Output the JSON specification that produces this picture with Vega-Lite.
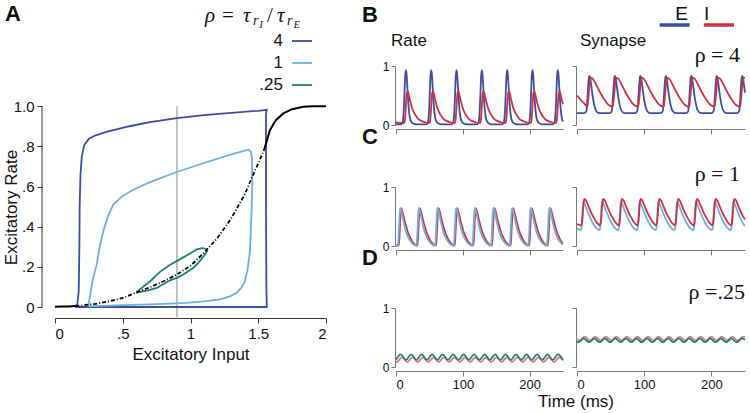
{
"$schema": "https://vega.github.io/schema/vega-lite/v6.json",
"padding": {"left": 2, "top": 3, "right": 2, "bottom": 2},
"background": "white",
"config": {
  "font": "Liberation Sans",
  "view": {"stroke": null},
  "axis": {"grid": false, "domainColor": "#777", "tickColor": "#777", "labelColor": "#111", "labelFont": "Liberation Sans", "titleFont": "Liberation Sans", "titleFontWeight": "normal", "titleColor": "#111"},
  "line": {"strokeWidth": 1.8},
  "text": {"color": "#111"}
},
"datasets": {
"loops": [
{"rho":"4","x":0.148,"y":0},{"rho":"4","x":0.165,"y":0.015},{"rho":"4","x":0.175,"y":0.08},{"rho":"4","x":0.18,"y":0.3},{"rho":"4","x":0.182,"y":0.5},{"rho":"4","x":0.188,"y":0.66},{"rho":"4","x":0.198,"y":0.75},{"rho":"4","x":0.215,"y":0.805},{"rho":"4","x":0.25,"y":0.838},{"rho":"4","x":0.3,"y":0.855},{"rho":"4","x":0.38,"y":0.872},{"rho":"4","x":0.55,"y":0.9},{"rho":"4","x":0.7,"y":0.92},{"rho":"4","x":0.9,"y":0.94},{"rho":"4","x":1.1,"y":0.955},{"rho":"4","x":1.3,"y":0.967},{"rho":"4","x":1.5,"y":0.977},{"rho":"4","x":1.563,"y":0.982},{"rho":"4","x":1.557,"y":0.96},{"rho":"4","x":1.557,"y":0.5},{"rho":"4","x":1.56,"y":0.1},{"rho":"4","x":1.563,"y":0},{"rho":"4","x":1.2,"y":0},{"rho":"4","x":0.8,"y":0},{"rho":"4","x":0.148,"y":0},
{"rho":"1","x":0.246,"y":0.003},{"rho":"1","x":0.25,"y":0.02},{"rho":"1","x":0.262,"y":0.07},{"rho":"1","x":0.28,"y":0.14},{"rho":"1","x":0.308,"y":0.212},{"rho":"1","x":0.33,"y":0.3},{"rho":"1","x":0.356,"y":0.377},{"rho":"1","x":0.39,"y":0.45},{"rho":"1","x":0.43,"y":0.51},{"rho":"1","x":0.5,"y":0.553},{"rho":"1","x":0.578,"y":0.584},{"rho":"1","x":0.7,"y":0.622},{"rho":"1","x":0.893,"y":0.671},{"rho":"1","x":1.1,"y":0.717},{"rho":"1","x":1.3,"y":0.76},{"rho":"1","x":1.427,"y":0.783},{"rho":"1","x":1.447,"y":0.772},{"rho":"1","x":1.454,"y":0.74},{"rho":"1","x":1.456,"y":0.62},{"rho":"1","x":1.452,"y":0.5},{"rho":"1","x":1.445,"y":0.38},{"rho":"1","x":1.439,"y":0.278},{"rho":"1","x":1.422,"y":0.19},{"rho":"1","x":1.402,"y":0.129},{"rho":"1","x":1.375,"y":0.095},{"rho":"1","x":1.341,"y":0.071},{"rho":"1","x":1.29,"y":0.053},{"rho":"1","x":1.218,"y":0.038},{"rho":"1","x":1.1,"y":0.028},{"rho":"1","x":0.972,"y":0.021},{"rho":"1","x":0.85,"y":0.017},{"rho":"1","x":0.701,"y":0.013},{"rho":"1","x":0.5,"y":0.009},{"rho":"1","x":0.35,"y":0.006},{"rho":"1","x":0.246,"y":0.003},
{"rho":".25","x":0.598,"y":0.072},{"rho":".25","x":0.65,"y":0.1},{"rho":".25","x":0.7,"y":0.127},{"rho":".25","x":0.775,"y":0.175},{"rho":".25","x":0.85,"y":0.21},{"rho":".25","x":0.947,"y":0.247},{"rho":".25","x":1.0,"y":0.268},{"rho":".25","x":1.046,"y":0.287},{"rho":".25","x":1.085,"y":0.293},{"rho":".25","x":1.115,"y":0.29},{"rho":".25","x":1.124,"y":0.28},{"rho":".25","x":1.1,"y":0.255},{"rho":".25","x":1.058,"y":0.22},{"rho":".25","x":1.021,"y":0.195},{"rho":".25","x":0.947,"y":0.162},{"rho":".25","x":0.898,"y":0.145},{"rho":".25","x":0.849,"y":0.133},{"rho":".25","x":0.751,"y":0.095},{"rho":".25","x":0.68,"y":0.082},{"rho":".25","x":0.598,"y":0.072}
],
"blackLow": [{"x":0,"y":0.001},{"x":0.05,"y":0.002},{"x":0.1,"y":0.003},{"x":0.15,"y":0.005}],
"blackMid": [{"x":0.15,"y":0.005},{"x":0.2,"y":0.008},{"x":0.3,"y":0.016},{"x":0.4,"y":0.028},{"x":0.5,"y":0.045},{"x":0.6,"y":0.072},{"x":0.7,"y":0.098},{"x":0.8,"y":0.128},{"x":0.9,"y":0.162},{"x":1.0,"y":0.205},{"x":1.1,"y":0.27},{"x":1.2,"y":0.345},{"x":1.3,"y":0.44},{"x":1.4,"y":0.56},{"x":1.45,"y":0.64},{"x":1.5,"y":0.715},{"x":1.545,"y":0.786}],
"blackHigh": [{"x":1.545,"y":0.786},{"x":1.587,"y":0.882},{"x":1.63,"y":0.93},{"x":1.685,"y":0.964},{"x":1.75,"y":0.985},{"x":1.833,"y":0.997},{"x":1.9,"y":0.999},{"x":2.0,"y":1.0}],
"bre": [{"t":0,"v":0.02},{"t":3,"v":0.01},
{"t":6.5,"v":0.01},{"t":9.5,"v":0.03},{"t":10.5,"v":0.08},{"t":11.5,"v":0.22},{"t":12.5,"v":0.48},{"t":13.5,"v":0.78},{"t":14.5,"v":0.93},{"t":15.5,"v":0.89},{"t":16.5,"v":0.74},{"t":17.5,"v":0.54},{"t":18.5,"v":0.36},{"t":19.5,"v":0.23},{"t":20.5,"v":0.14},{"t":22.5,"v":0.06},{"t":25.5,"v":0.025},{"t":30.5,"v":0.01},
{"t":44.4,"v":0.01},{"t":47.4,"v":0.03},{"t":48.4,"v":0.08},{"t":49.4,"v":0.22},{"t":50.4,"v":0.48},{"t":51.4,"v":0.78},{"t":52.4,"v":0.93},{"t":53.4,"v":0.89},{"t":54.4,"v":0.74},{"t":55.4,"v":0.54},{"t":56.4,"v":0.36},{"t":57.4,"v":0.23},{"t":58.4,"v":0.14},{"t":60.4,"v":0.06},{"t":63.4,"v":0.025},{"t":68.4,"v":0.01},
{"t":82.3,"v":0.01},{"t":85.3,"v":0.03},{"t":86.3,"v":0.08},{"t":87.3,"v":0.22},{"t":88.3,"v":0.48},{"t":89.3,"v":0.78},{"t":90.3,"v":0.93},{"t":91.3,"v":0.89},{"t":92.3,"v":0.74},{"t":93.3,"v":0.54},{"t":94.3,"v":0.36},{"t":95.3,"v":0.23},{"t":96.3,"v":0.14},{"t":98.3,"v":0.06},{"t":101.3,"v":0.025},{"t":106.3,"v":0.01},
{"t":120.2,"v":0.01},{"t":123.2,"v":0.03},{"t":124.2,"v":0.08},{"t":125.2,"v":0.22},{"t":126.2,"v":0.48},{"t":127.2,"v":0.78},{"t":128.2,"v":0.93},{"t":129.2,"v":0.89},{"t":130.2,"v":0.74},{"t":131.2,"v":0.54},{"t":132.2,"v":0.36},{"t":133.2,"v":0.23},{"t":134.2,"v":0.14},{"t":136.2,"v":0.06},{"t":139.2,"v":0.025},{"t":144.2,"v":0.01},
{"t":158.1,"v":0.01},{"t":161.1,"v":0.03},{"t":162.1,"v":0.08},{"t":163.1,"v":0.22},{"t":164.1,"v":0.48},{"t":165.1,"v":0.78},{"t":166.1,"v":0.93},{"t":167.1,"v":0.89},{"t":168.1,"v":0.74},{"t":169.1,"v":0.54},{"t":170.1,"v":0.36},{"t":171.1,"v":0.23},{"t":172.1,"v":0.14},{"t":174.1,"v":0.06},{"t":177.1,"v":0.025},{"t":182.1,"v":0.01},
{"t":196,"v":0.01},{"t":199,"v":0.03},{"t":200,"v":0.08},{"t":201,"v":0.22},{"t":202,"v":0.48},{"t":203,"v":0.78},{"t":204,"v":0.93},{"t":205,"v":0.89},{"t":206,"v":0.74},{"t":207,"v":0.54},{"t":208,"v":0.36},{"t":209,"v":0.23},{"t":210,"v":0.14},{"t":212,"v":0.06},{"t":215,"v":0.025},{"t":220,"v":0.01},
{"t":233.9,"v":0.01},{"t":236.9,"v":0.03},{"t":237.9,"v":0.08},{"t":238.9,"v":0.22},{"t":239.9,"v":0.48},{"t":240.9,"v":0.78},{"t":241.9,"v":0.93},{"t":242.9,"v":0.89},{"t":243.9,"v":0.74},{"t":244.9,"v":0.54},{"t":245.9,"v":0.36},{"t":246.9,"v":0.23},{"t":247.9,"v":0.14},{"t":250,"v":0.06}],
"bri": [{"t":0,"v":0.05},{"t":4,"v":0.035},
{"t":12.5,"v":0.035},{"t":13.5,"v":0.1},{"t":14.5,"v":0.26},{"t":15.5,"v":0.45},{"t":16.5,"v":0.55},{"t":17.5,"v":0.57},{"t":18.5,"v":0.54},{"t":20.5,"v":0.44},{"t":23.5,"v":0.31},{"t":26.5,"v":0.22},{"t":29.5,"v":0.16},{"t":33.5,"v":0.1},{"t":38.5,"v":0.065},{"t":43.5,"v":0.045},{"t":47.5,"v":0.035},
{"t":50.4,"v":0.035},{"t":51.4,"v":0.1},{"t":52.4,"v":0.26},{"t":53.4,"v":0.45},{"t":54.4,"v":0.55},{"t":55.4,"v":0.57},{"t":56.4,"v":0.54},{"t":58.4,"v":0.44},{"t":61.4,"v":0.31},{"t":64.4,"v":0.22},{"t":67.4,"v":0.16},{"t":71.4,"v":0.1},{"t":76.4,"v":0.065},{"t":81.4,"v":0.045},{"t":85.4,"v":0.035},
{"t":88.3,"v":0.035},{"t":89.3,"v":0.1},{"t":90.3,"v":0.26},{"t":91.3,"v":0.45},{"t":92.3,"v":0.55},{"t":93.3,"v":0.57},{"t":94.3,"v":0.54},{"t":96.3,"v":0.44},{"t":99.3,"v":0.31},{"t":102.3,"v":0.22},{"t":105.3,"v":0.16},{"t":109.3,"v":0.1},{"t":114.3,"v":0.065},{"t":119.3,"v":0.045},{"t":123.3,"v":0.035},
{"t":126.2,"v":0.035},{"t":127.2,"v":0.1},{"t":128.2,"v":0.26},{"t":129.2,"v":0.45},{"t":130.2,"v":0.55},{"t":131.2,"v":0.57},{"t":132.2,"v":0.54},{"t":134.2,"v":0.44},{"t":137.2,"v":0.31},{"t":140.2,"v":0.22},{"t":143.2,"v":0.16},{"t":147.2,"v":0.1},{"t":152.2,"v":0.065},{"t":157.2,"v":0.045},{"t":161.2,"v":0.035},
{"t":164.1,"v":0.035},{"t":165.1,"v":0.1},{"t":166.1,"v":0.26},{"t":167.1,"v":0.45},{"t":168.1,"v":0.55},{"t":169.1,"v":0.57},{"t":170.1,"v":0.54},{"t":172.1,"v":0.44},{"t":175.1,"v":0.31},{"t":178.1,"v":0.22},{"t":181.1,"v":0.16},{"t":185.1,"v":0.1},{"t":190.1,"v":0.065},{"t":195.1,"v":0.045},{"t":199.1,"v":0.035},
{"t":202,"v":0.035},{"t":203,"v":0.1},{"t":204,"v":0.26},{"t":205,"v":0.45},{"t":206,"v":0.55},{"t":207,"v":0.57},{"t":208,"v":0.54},{"t":210,"v":0.44},{"t":213,"v":0.31},{"t":216,"v":0.22},{"t":219,"v":0.16},{"t":223,"v":0.1},{"t":228,"v":0.065},{"t":233,"v":0.045},{"t":237,"v":0.035},
{"t":239.9,"v":0.035},{"t":240.9,"v":0.1},{"t":241.9,"v":0.26},{"t":242.9,"v":0.45},{"t":243.9,"v":0.55},{"t":244.9,"v":0.57},{"t":245.9,"v":0.54},{"t":247.9,"v":0.44},{"t":250,"v":0.35}],
"bse": [{"t":0,"v":0.2},
{"t":11,"v":0.2},{"t":14,"v":0.24},{"t":15,"v":0.36},{"t":16,"v":0.54},{"t":17,"v":0.72},{"t":18,"v":0.83},{"t":19,"v":0.83},{"t":20,"v":0.77},{"t":22,"v":0.6},{"t":24,"v":0.44},{"t":26,"v":0.32},{"t":28,"v":0.25},{"t":31,"v":0.21},{"t":36,"v":0.2},
{"t":48.9,"v":0.2},{"t":51.9,"v":0.24},{"t":52.9,"v":0.36},{"t":53.9,"v":0.54},{"t":54.9,"v":0.72},{"t":55.9,"v":0.83},{"t":56.9,"v":0.83},{"t":57.9,"v":0.77},{"t":59.9,"v":0.6},{"t":61.9,"v":0.44},{"t":63.9,"v":0.32},{"t":65.9,"v":0.25},{"t":68.9,"v":0.21},{"t":73.9,"v":0.2},
{"t":86.8,"v":0.2},{"t":89.8,"v":0.24},{"t":90.8,"v":0.36},{"t":91.8,"v":0.54},{"t":92.8,"v":0.72},{"t":93.8,"v":0.83},{"t":94.8,"v":0.83},{"t":95.8,"v":0.77},{"t":97.8,"v":0.6},{"t":99.8,"v":0.44},{"t":101.8,"v":0.32},{"t":103.8,"v":0.25},{"t":106.8,"v":0.21},{"t":111.8,"v":0.2},
{"t":124.7,"v":0.2},{"t":127.7,"v":0.24},{"t":128.7,"v":0.36},{"t":129.7,"v":0.54},{"t":130.7,"v":0.72},{"t":131.7,"v":0.83},{"t":132.7,"v":0.83},{"t":133.7,"v":0.77},{"t":135.7,"v":0.6},{"t":137.7,"v":0.44},{"t":139.7,"v":0.32},{"t":141.7,"v":0.25},{"t":144.7,"v":0.21},{"t":149.7,"v":0.2},
{"t":162.6,"v":0.2},{"t":165.6,"v":0.24},{"t":166.6,"v":0.36},{"t":167.6,"v":0.54},{"t":168.6,"v":0.72},{"t":169.6,"v":0.83},{"t":170.6,"v":0.83},{"t":171.6,"v":0.77},{"t":173.6,"v":0.6},{"t":175.6,"v":0.44},{"t":177.6,"v":0.32},{"t":179.6,"v":0.25},{"t":182.6,"v":0.21},{"t":187.6,"v":0.2},
{"t":200.5,"v":0.2},{"t":203.5,"v":0.24},{"t":204.5,"v":0.36},{"t":205.5,"v":0.54},{"t":206.5,"v":0.72},{"t":207.5,"v":0.83},{"t":208.5,"v":0.83},{"t":209.5,"v":0.77},{"t":211.5,"v":0.6},{"t":213.5,"v":0.44},{"t":215.5,"v":0.32},{"t":217.5,"v":0.25},{"t":220.5,"v":0.21},{"t":225.5,"v":0.2},
{"t":238.4,"v":0.2},{"t":241.4,"v":0.24},{"t":242.4,"v":0.36},{"t":243.4,"v":0.54},{"t":244.4,"v":0.72},{"t":245.4,"v":0.83},{"t":246.4,"v":0.83},{"t":247.4,"v":0.77},{"t":249.4,"v":0.6},{"t":250,"v":0.55}],
"bsi": [{"t":0,"v":0.5},{"t":7,"v":0.41},{"t":12,"v":0.35},
{"t":15,"v":0.31},{"t":16,"v":0.36},{"t":17,"v":0.47},{"t":18,"v":0.6},{"t":19,"v":0.71},{"t":20,"v":0.78},{"t":21,"v":0.8},{"t":23,"v":0.79},{"t":26,"v":0.74},{"t":30,"v":0.65},{"t":34,"v":0.56},{"t":38,"v":0.48},{"t":42,"v":0.41},{"t":46,"v":0.35},{"t":50,"v":0.32},
{"t":52.9,"v":0.31},{"t":53.9,"v":0.36},{"t":54.9,"v":0.47},{"t":55.9,"v":0.6},{"t":56.9,"v":0.71},{"t":57.9,"v":0.78},{"t":58.9,"v":0.8},{"t":60.9,"v":0.79},{"t":63.9,"v":0.74},{"t":67.9,"v":0.65},{"t":71.9,"v":0.56},{"t":75.9,"v":0.48},{"t":79.9,"v":0.41},{"t":83.9,"v":0.35},{"t":87.9,"v":0.32},
{"t":90.8,"v":0.31},{"t":91.8,"v":0.36},{"t":92.8,"v":0.47},{"t":93.8,"v":0.6},{"t":94.8,"v":0.71},{"t":95.8,"v":0.78},{"t":96.8,"v":0.8},{"t":98.8,"v":0.79},{"t":101.8,"v":0.74},{"t":105.8,"v":0.65},{"t":109.8,"v":0.56},{"t":113.8,"v":0.48},{"t":117.8,"v":0.41},{"t":121.8,"v":0.35},{"t":125.8,"v":0.32},
{"t":128.7,"v":0.31},{"t":129.7,"v":0.36},{"t":130.7,"v":0.47},{"t":131.7,"v":0.6},{"t":132.7,"v":0.71},{"t":133.7,"v":0.78},{"t":134.7,"v":0.8},{"t":136.7,"v":0.79},{"t":139.7,"v":0.74},{"t":143.7,"v":0.65},{"t":147.7,"v":0.56},{"t":151.7,"v":0.48},{"t":155.7,"v":0.41},{"t":159.7,"v":0.35},{"t":163.7,"v":0.32},
{"t":166.6,"v":0.31},{"t":167.6,"v":0.36},{"t":168.6,"v":0.47},{"t":169.6,"v":0.6},{"t":170.6,"v":0.71},{"t":171.6,"v":0.78},{"t":172.6,"v":0.8},{"t":174.6,"v":0.79},{"t":177.6,"v":0.74},{"t":181.6,"v":0.65},{"t":185.6,"v":0.56},{"t":189.6,"v":0.48},{"t":193.6,"v":0.41},{"t":197.6,"v":0.35},{"t":201.6,"v":0.32},
{"t":204.5,"v":0.31},{"t":205.5,"v":0.36},{"t":206.5,"v":0.47},{"t":207.5,"v":0.6},{"t":208.5,"v":0.71},{"t":209.5,"v":0.78},{"t":210.5,"v":0.8},{"t":212.5,"v":0.79},{"t":215.5,"v":0.74},{"t":219.5,"v":0.65},{"t":223.5,"v":0.56},{"t":227.5,"v":0.48},{"t":231.5,"v":0.41},{"t":235.5,"v":0.35},{"t":239.5,"v":0.32},
{"t":242.4,"v":0.31},{"t":243.4,"v":0.36},{"t":244.4,"v":0.47},{"t":245.4,"v":0.6},{"t":246.4,"v":0.71},{"t":247.4,"v":0.78},{"t":248.4,"v":0.8},{"t":250,"v":0.795}],
"cre": [{"t":0,"v":0.005},
{"t":2,"v":0.005},{"t":3,"v":0.03},{"t":4,"v":0.2},{"t":5,"v":0.45},{"t":6,"v":0.64},{"t":7,"v":0.63},{"t":9,"v":0.54},{"t":11,"v":0.43},{"t":13,"v":0.33},{"t":16,"v":0.21},{"t":19,"v":0.13},{"t":23,"v":0.06},{"t":27,"v":0.02},
{"t":29.9,"v":0.005},{"t":30.9,"v":0.03},{"t":31.9,"v":0.2},{"t":32.9,"v":0.45},{"t":33.9,"v":0.64},{"t":34.9,"v":0.63},{"t":36.9,"v":0.54},{"t":38.9,"v":0.43},{"t":40.9,"v":0.33},{"t":43.9,"v":0.21},{"t":46.9,"v":0.13},{"t":50.9,"v":0.06},{"t":54.9,"v":0.02},
{"t":57.8,"v":0.005},{"t":58.8,"v":0.03},{"t":59.8,"v":0.2},{"t":60.8,"v":0.45},{"t":61.8,"v":0.64},{"t":62.8,"v":0.63},{"t":64.8,"v":0.54},{"t":66.8,"v":0.43},{"t":68.8,"v":0.33},{"t":71.8,"v":0.21},{"t":74.8,"v":0.13},{"t":78.8,"v":0.06},{"t":82.8,"v":0.02},
{"t":85.7,"v":0.005},{"t":86.7,"v":0.03},{"t":87.7,"v":0.2},{"t":88.7,"v":0.45},{"t":89.7,"v":0.64},{"t":90.7,"v":0.63},{"t":92.7,"v":0.54},{"t":94.7,"v":0.43},{"t":96.7,"v":0.33},{"t":99.7,"v":0.21},{"t":102.7,"v":0.13},{"t":106.7,"v":0.06},{"t":110.7,"v":0.02},
{"t":113.6,"v":0.005},{"t":114.6,"v":0.03},{"t":115.6,"v":0.2},{"t":116.6,"v":0.45},{"t":117.6,"v":0.64},{"t":118.6,"v":0.63},{"t":120.6,"v":0.54},{"t":122.6,"v":0.43},{"t":124.6,"v":0.33},{"t":127.6,"v":0.21},{"t":130.6,"v":0.13},{"t":134.6,"v":0.06},{"t":138.6,"v":0.02},
{"t":141.5,"v":0.005},{"t":142.5,"v":0.03},{"t":143.5,"v":0.2},{"t":144.5,"v":0.45},{"t":145.5,"v":0.64},{"t":146.5,"v":0.63},{"t":148.5,"v":0.54},{"t":150.5,"v":0.43},{"t":152.5,"v":0.33},{"t":155.5,"v":0.21},{"t":158.5,"v":0.13},{"t":162.5,"v":0.06},{"t":166.5,"v":0.02},
{"t":169.4,"v":0.005},{"t":170.4,"v":0.03},{"t":171.4,"v":0.2},{"t":172.4,"v":0.45},{"t":173.4,"v":0.64},{"t":174.4,"v":0.63},{"t":176.4,"v":0.54},{"t":178.4,"v":0.43},{"t":180.4,"v":0.33},{"t":183.4,"v":0.21},{"t":186.4,"v":0.13},{"t":190.4,"v":0.06},{"t":194.4,"v":0.02},
{"t":197.3,"v":0.005},{"t":198.3,"v":0.03},{"t":199.3,"v":0.2},{"t":200.3,"v":0.45},{"t":201.3,"v":0.64},{"t":202.3,"v":0.63},{"t":204.3,"v":0.54},{"t":206.3,"v":0.43},{"t":208.3,"v":0.33},{"t":211.3,"v":0.21},{"t":214.3,"v":0.13},{"t":218.3,"v":0.06},{"t":222.3,"v":0.02},
{"t":225.2,"v":0.005},{"t":226.2,"v":0.03},{"t":227.2,"v":0.2},{"t":228.2,"v":0.45},{"t":229.2,"v":0.64},{"t":230.2,"v":0.63},{"t":232.2,"v":0.54},{"t":234.2,"v":0.43},{"t":236.2,"v":0.33},{"t":239.2,"v":0.21},{"t":242.2,"v":0.13},{"t":246.2,"v":0.06},{"t":250,"v":0.02}],
"cri": [{"t":0,"v":0.005},
{"t":3,"v":0.005},{"t":4,"v":0.02},{"t":5,"v":0.12},{"t":6,"v":0.36},{"t":7,"v":0.58},{"t":8,"v":0.64},{"t":10,"v":0.57},{"t":12,"v":0.47},{"t":14,"v":0.38},{"t":17,"v":0.26},{"t":20,"v":0.17},{"t":24,"v":0.08},{"t":28,"v":0.03},
{"t":30.9,"v":0.005},{"t":31.9,"v":0.02},{"t":32.9,"v":0.12},{"t":33.9,"v":0.36},{"t":34.9,"v":0.58},{"t":35.9,"v":0.64},{"t":37.9,"v":0.57},{"t":39.9,"v":0.47},{"t":41.9,"v":0.38},{"t":44.9,"v":0.26},{"t":47.9,"v":0.17},{"t":51.9,"v":0.08},{"t":55.9,"v":0.03},
{"t":58.8,"v":0.005},{"t":59.8,"v":0.02},{"t":60.8,"v":0.12},{"t":61.8,"v":0.36},{"t":62.8,"v":0.58},{"t":63.8,"v":0.64},{"t":65.8,"v":0.57},{"t":67.8,"v":0.47},{"t":69.8,"v":0.38},{"t":72.8,"v":0.26},{"t":75.8,"v":0.17},{"t":79.8,"v":0.08},{"t":83.8,"v":0.03},
{"t":86.7,"v":0.005},{"t":87.7,"v":0.02},{"t":88.7,"v":0.12},{"t":89.7,"v":0.36},{"t":90.7,"v":0.58},{"t":91.7,"v":0.64},{"t":93.7,"v":0.57},{"t":95.7,"v":0.47},{"t":97.7,"v":0.38},{"t":100.7,"v":0.26},{"t":103.7,"v":0.17},{"t":107.7,"v":0.08},{"t":111.7,"v":0.03},
{"t":114.6,"v":0.005},{"t":115.6,"v":0.02},{"t":116.6,"v":0.12},{"t":117.6,"v":0.36},{"t":118.6,"v":0.58},{"t":119.6,"v":0.64},{"t":121.6,"v":0.57},{"t":123.6,"v":0.47},{"t":125.6,"v":0.38},{"t":128.6,"v":0.26},{"t":131.6,"v":0.17},{"t":135.6,"v":0.08},{"t":139.6,"v":0.03},
{"t":142.5,"v":0.005},{"t":143.5,"v":0.02},{"t":144.5,"v":0.12},{"t":145.5,"v":0.36},{"t":146.5,"v":0.58},{"t":147.5,"v":0.64},{"t":149.5,"v":0.57},{"t":151.5,"v":0.47},{"t":153.5,"v":0.38},{"t":156.5,"v":0.26},{"t":159.5,"v":0.17},{"t":163.5,"v":0.08},{"t":167.5,"v":0.03},
{"t":170.4,"v":0.005},{"t":171.4,"v":0.02},{"t":172.4,"v":0.12},{"t":173.4,"v":0.36},{"t":174.4,"v":0.58},{"t":175.4,"v":0.64},{"t":177.4,"v":0.57},{"t":179.4,"v":0.47},{"t":181.4,"v":0.38},{"t":184.4,"v":0.26},{"t":187.4,"v":0.17},{"t":191.4,"v":0.08},{"t":195.4,"v":0.03},
{"t":198.3,"v":0.005},{"t":199.3,"v":0.02},{"t":200.3,"v":0.12},{"t":201.3,"v":0.36},{"t":202.3,"v":0.58},{"t":203.3,"v":0.64},{"t":205.3,"v":0.57},{"t":207.3,"v":0.47},{"t":209.3,"v":0.38},{"t":212.3,"v":0.26},{"t":215.3,"v":0.17},{"t":219.3,"v":0.08},{"t":223.3,"v":0.03},
{"t":226.2,"v":0.005},{"t":227.2,"v":0.02},{"t":228.2,"v":0.12},{"t":229.2,"v":0.36},{"t":230.2,"v":0.58},{"t":231.2,"v":0.64},{"t":233.2,"v":0.57},{"t":235.2,"v":0.47},{"t":237.2,"v":0.38},{"t":240.2,"v":0.26},{"t":243.2,"v":0.17},{"t":247.2,"v":0.08},{"t":250,"v":0.045}],
"cse": [{"t":0,"v":0.3},{"t":3,"v":0.28},
{"t":5.5,"v":0.27},{"t":6.5,"v":0.3},{"t":7.5,"v":0.45},{"t":8.5,"v":0.64},{"t":9.5,"v":0.75},{"t":10.5,"v":0.74},{"t":12.5,"v":0.68},{"t":15.5,"v":0.59},{"t":19.5,"v":0.48},{"t":23.5,"v":0.39},{"t":27.5,"v":0.32},{"t":30.5,"v":0.285},
{"t":33.4,"v":0.27},{"t":34.4,"v":0.3},{"t":35.4,"v":0.45},{"t":36.4,"v":0.64},{"t":37.4,"v":0.75},{"t":38.4,"v":0.74},{"t":40.4,"v":0.68},{"t":43.4,"v":0.59},{"t":47.4,"v":0.48},{"t":51.4,"v":0.39},{"t":55.4,"v":0.32},{"t":58.4,"v":0.285},
{"t":61.3,"v":0.27},{"t":62.3,"v":0.3},{"t":63.3,"v":0.45},{"t":64.3,"v":0.64},{"t":65.3,"v":0.75},{"t":66.3,"v":0.74},{"t":68.3,"v":0.68},{"t":71.3,"v":0.59},{"t":75.3,"v":0.48},{"t":79.3,"v":0.39},{"t":83.3,"v":0.32},{"t":86.3,"v":0.285},
{"t":89.2,"v":0.27},{"t":90.2,"v":0.3},{"t":91.2,"v":0.45},{"t":92.2,"v":0.64},{"t":93.2,"v":0.75},{"t":94.2,"v":0.74},{"t":96.2,"v":0.68},{"t":99.2,"v":0.59},{"t":103.2,"v":0.48},{"t":107.2,"v":0.39},{"t":111.2,"v":0.32},{"t":114.2,"v":0.285},
{"t":117.1,"v":0.27},{"t":118.1,"v":0.3},{"t":119.1,"v":0.45},{"t":120.1,"v":0.64},{"t":121.1,"v":0.75},{"t":122.1,"v":0.74},{"t":124.1,"v":0.68},{"t":127.1,"v":0.59},{"t":131.1,"v":0.48},{"t":135.1,"v":0.39},{"t":139.1,"v":0.32},{"t":142.1,"v":0.285},
{"t":145,"v":0.27},{"t":146,"v":0.3},{"t":147,"v":0.45},{"t":148,"v":0.64},{"t":149,"v":0.75},{"t":150,"v":0.74},{"t":152,"v":0.68},{"t":155,"v":0.59},{"t":159,"v":0.48},{"t":163,"v":0.39},{"t":167,"v":0.32},{"t":170,"v":0.285},
{"t":172.9,"v":0.27},{"t":173.9,"v":0.3},{"t":174.9,"v":0.45},{"t":175.9,"v":0.64},{"t":176.9,"v":0.75},{"t":177.9,"v":0.74},{"t":179.9,"v":0.68},{"t":182.9,"v":0.59},{"t":186.9,"v":0.48},{"t":190.9,"v":0.39},{"t":194.9,"v":0.32},{"t":197.9,"v":0.285},
{"t":200.8,"v":0.27},{"t":201.8,"v":0.3},{"t":202.8,"v":0.45},{"t":203.8,"v":0.64},{"t":204.8,"v":0.75},{"t":205.8,"v":0.74},{"t":207.8,"v":0.68},{"t":210.8,"v":0.59},{"t":214.8,"v":0.48},{"t":218.8,"v":0.39},{"t":222.8,"v":0.32},{"t":225.8,"v":0.285},
{"t":228.7,"v":0.27},{"t":229.7,"v":0.3},{"t":230.7,"v":0.45},{"t":231.7,"v":0.64},{"t":232.7,"v":0.75},{"t":233.7,"v":0.74},{"t":235.7,"v":0.68},{"t":238.7,"v":0.59},{"t":242.7,"v":0.48},{"t":246.7,"v":0.39},{"t":250,"v":0.34}],
"csi": [{"t":0,"v":0.37},{"t":3,"v":0.36},
{"t":6.5,"v":0.35},{"t":7.5,"v":0.39},{"t":8.5,"v":0.52},{"t":9.5,"v":0.69},{"t":10.5,"v":0.78},{"t":11.5,"v":0.8},{"t":13.5,"v":0.77},{"t":16.5,"v":0.69},{"t":20.5,"v":0.58},{"t":24.5,"v":0.49},{"t":28.5,"v":0.41},{"t":31.5,"v":0.37},
{"t":34.4,"v":0.35},{"t":35.4,"v":0.39},{"t":36.4,"v":0.52},{"t":37.4,"v":0.69},{"t":38.4,"v":0.78},{"t":39.4,"v":0.8},{"t":41.4,"v":0.77},{"t":44.4,"v":0.69},{"t":48.4,"v":0.58},{"t":52.4,"v":0.49},{"t":56.4,"v":0.41},{"t":59.4,"v":0.37},
{"t":62.3,"v":0.35},{"t":63.3,"v":0.39},{"t":64.3,"v":0.52},{"t":65.3,"v":0.69},{"t":66.3,"v":0.78},{"t":67.3,"v":0.8},{"t":69.3,"v":0.77},{"t":72.3,"v":0.69},{"t":76.3,"v":0.58},{"t":80.3,"v":0.49},{"t":84.3,"v":0.41},{"t":87.3,"v":0.37},
{"t":90.2,"v":0.35},{"t":91.2,"v":0.39},{"t":92.2,"v":0.52},{"t":93.2,"v":0.69},{"t":94.2,"v":0.78},{"t":95.2,"v":0.8},{"t":97.2,"v":0.77},{"t":100.2,"v":0.69},{"t":104.2,"v":0.58},{"t":108.2,"v":0.49},{"t":112.2,"v":0.41},{"t":115.2,"v":0.37},
{"t":118.1,"v":0.35},{"t":119.1,"v":0.39},{"t":120.1,"v":0.52},{"t":121.1,"v":0.69},{"t":122.1,"v":0.78},{"t":123.1,"v":0.8},{"t":125.1,"v":0.77},{"t":128.1,"v":0.69},{"t":132.1,"v":0.58},{"t":136.1,"v":0.49},{"t":140.1,"v":0.41},{"t":143.1,"v":0.37},
{"t":146,"v":0.35},{"t":147,"v":0.39},{"t":148,"v":0.52},{"t":149,"v":0.69},{"t":150,"v":0.78},{"t":151,"v":0.8},{"t":153,"v":0.77},{"t":156,"v":0.69},{"t":160,"v":0.58},{"t":164,"v":0.49},{"t":168,"v":0.41},{"t":171,"v":0.37},
{"t":173.9,"v":0.35},{"t":174.9,"v":0.39},{"t":175.9,"v":0.52},{"t":176.9,"v":0.69},{"t":177.9,"v":0.78},{"t":178.9,"v":0.8},{"t":180.9,"v":0.77},{"t":183.9,"v":0.69},{"t":187.9,"v":0.58},{"t":191.9,"v":0.49},{"t":195.9,"v":0.41},{"t":198.9,"v":0.37},
{"t":201.8,"v":0.35},{"t":202.8,"v":0.39},{"t":203.8,"v":0.52},{"t":204.8,"v":0.69},{"t":205.8,"v":0.78},{"t":206.8,"v":0.8},{"t":208.8,"v":0.77},{"t":211.8,"v":0.69},{"t":215.8,"v":0.58},{"t":219.8,"v":0.49},{"t":223.8,"v":0.41},{"t":226.8,"v":0.37},
{"t":229.7,"v":0.35},{"t":230.7,"v":0.39},{"t":231.7,"v":0.52},{"t":232.7,"v":0.69},{"t":233.7,"v":0.78},{"t":234.7,"v":0.8},{"t":236.7,"v":0.77},{"t":239.7,"v":0.69},{"t":243.7,"v":0.58},{"t":247.7,"v":0.49},{"t":250,"v":0.45}],
"dre": [{"t":0,"v":0.125},{"t":7,"v":0.215},{"t":14.9,"v":0.12},{"t":22.7,"v":0.215},{"t":30.6,"v":0.12},{"t":38.4,"v":0.215},{"t":46.3,"v":0.12},{"t":54.1,"v":0.215},{"t":62,"v":0.12},{"t":69.8,"v":0.215},{"t":77.7,"v":0.12},{"t":85.5,"v":0.215},{"t":93.4,"v":0.12},{"t":101.2,"v":0.215},{"t":109.1,"v":0.12},{"t":116.9,"v":0.215},{"t":124.8,"v":0.12},{"t":132.6,"v":0.215},{"t":140.5,"v":0.12},{"t":148.3,"v":0.215},{"t":156.2,"v":0.12},{"t":164,"v":0.215},{"t":171.9,"v":0.12},{"t":179.7,"v":0.215},{"t":187.6,"v":0.12},{"t":195.4,"v":0.215},{"t":203.3,"v":0.12},{"t":211.1,"v":0.215},{"t":219,"v":0.12},{"t":226.8,"v":0.215},{"t":234.7,"v":0.12},{"t":242.5,"v":0.215},{"t":250,"v":0.125}],
"dri": [{"t":0,"v":0.095},{"t":1.1,"v":0.085},{"t":9,"v":0.165},{"t":16.9,"v":0.085},{"t":24.7,"v":0.165},{"t":32.6,"v":0.085},{"t":40.4,"v":0.165},{"t":48.3,"v":0.085},{"t":56.1,"v":0.165},{"t":64,"v":0.085},{"t":71.8,"v":0.165},{"t":79.7,"v":0.085},{"t":87.5,"v":0.165},{"t":95.4,"v":0.085},{"t":103.2,"v":0.165},{"t":111.1,"v":0.085},{"t":118.9,"v":0.165},{"t":126.8,"v":0.085},{"t":134.6,"v":0.165},{"t":142.5,"v":0.085},{"t":150.3,"v":0.165},{"t":158.2,"v":0.085},{"t":166,"v":0.165},{"t":173.9,"v":0.085},{"t":181.7,"v":0.165},{"t":189.6,"v":0.085},{"t":197.4,"v":0.165},{"t":205.3,"v":0.085},{"t":213.1,"v":0.165},{"t":221,"v":0.085},{"t":228.8,"v":0.165},{"t":236.7,"v":0.085},{"t":244.5,"v":0.165},{"t":250,"v":0.11}],
"dse": [{"t":0,"v":0.425},{"t":2.2,"v":0.42},{"t":10,"v":0.485},{"t":17.9,"v":0.42},{"t":25.7,"v":0.485},{"t":33.6,"v":0.42},{"t":41.4,"v":0.485},{"t":49.3,"v":0.42},{"t":57.1,"v":0.485},{"t":65,"v":0.42},{"t":72.8,"v":0.485},{"t":80.7,"v":0.42},{"t":88.5,"v":0.485},{"t":96.4,"v":0.42},{"t":104.2,"v":0.485},{"t":112.1,"v":0.42},{"t":119.9,"v":0.485},{"t":127.8,"v":0.42},{"t":135.6,"v":0.485},{"t":143.5,"v":0.42},{"t":151.3,"v":0.485},{"t":159.2,"v":0.42},{"t":167,"v":0.485},{"t":174.9,"v":0.42},{"t":182.7,"v":0.485},{"t":190.6,"v":0.42},{"t":198.4,"v":0.485},{"t":206.3,"v":0.42},{"t":214.1,"v":0.485},{"t":222,"v":0.42},{"t":229.8,"v":0.485},{"t":237.7,"v":0.42},{"t":245.5,"v":0.485},{"t":250,"v":0.46}],
"dsi": [{"t":0,"v":0.465},{"t":3.7,"v":0.45},{"t":11.5,"v":0.515},{"t":19.4,"v":0.45},{"t":27.2,"v":0.515},{"t":35.1,"v":0.45},{"t":42.9,"v":0.515},{"t":50.8,"v":0.45},{"t":58.6,"v":0.515},{"t":66.5,"v":0.45},{"t":74.3,"v":0.515},{"t":82.2,"v":0.45},{"t":90,"v":0.515},{"t":97.9,"v":0.45},{"t":105.7,"v":0.515},{"t":113.6,"v":0.45},{"t":121.4,"v":0.515},{"t":129.3,"v":0.45},{"t":137.1,"v":0.515},{"t":145,"v":0.45},{"t":152.8,"v":0.515},{"t":160.7,"v":0.45},{"t":168.5,"v":0.515},{"t":176.4,"v":0.45},{"t":184.2,"v":0.515},{"t":192.1,"v":0.45},{"t":199.9,"v":0.515},{"t":207.8,"v":0.45},{"t":215.6,"v":0.515},{"t":223.5,"v":0.45},{"t":231.3,"v":0.515},{"t":239.2,"v":0.45},{"t":247,"v":0.515},{"t":250,"v":0.505}]
},
"bounds": "flush",
"spacing": 70,
"hconcat": [
{
  "width": 271, "height": 241,
  "layer": [
    {"data": {"values": [{}]}, "mark": {"type": "rule", "color": "#8a8a8a", "strokeWidth": 1}, "encoding": {"x": {"datum": 0.9}, "y": {"datum": -0.05}, "y2": {"datum": 1.0}}},
    {"data": {"name": "loops"}, "mark": {"type": "line", "strokeWidth": 1.8},
     "encoding": {
       "x": {"field": "x", "type": "quantitative", "scale": {"domain": [0, 2], "nice": false},
             "axis": {"values": [0, 0.5, 1, 1.5, 2], "labelExpr": "datum.value == 0 ? '0' : datum.value == 0.5 ? '.5' : format(datum.value, '~g')", "offset": 11, "tickSize": 5, "domainColor": "#333", "tickColor": "#333", "labelFontSize": 15, "labelPadding": 3, "title": "Excitatory Input", "titleFontSize": 17, "titlePadding": 5}},
       "y": {"field": "y", "type": "quantitative", "scale": {"domain": [0, 1.2], "nice": false},
             "axis": {"values": [0, 0.2, 0.4, 0.6, 0.8, 1], "labelExpr": "datum.value == 0 ? '0' : datum.value == 1 ? '1.0' : '.' + format(datum.value * 10, 'd')", "domain": false, "offset": 13, "tickSize": 5, "tickColor": "#333", "labelFontSize": 15, "labelPadding": 3, "title": "Excitatory Rate", "titleFontSize": 17, "titlePadding": -7, "titleY": 141}},
       "color": {"field": "rho", "type": "nominal", "scale": {"domain": ["4", "1", ".25"], "range": ["#3b4ea2", "#6fb0e0", "#1f7f70"]},
                 "legend": {"orient": "none", "legendX": 236, "legendY": -36, "title": null, "symbolType": "stroke", "symbolSize": 400, "symbolStrokeWidth": 2.5, "labelFontSize": 17, "labelAlign": "right", "labelOffset": -30, "rowPadding": 3, "labelColor": "#111"}},
       "order": {"value": null}
     }},
    {"data": {"name": "blackLow"}, "mark": {"type": "line", "color": "#000", "strokeWidth": 2}, "encoding": {"x": {"field": "x", "type": "quantitative"}, "y": {"field": "y", "type": "quantitative"}}},
    {"data": {"name": "blackMid"}, "mark": {"type": "line", "color": "#000", "strokeWidth": 1.8, "strokeDash": [4, 2, 1, 2]}, "encoding": {"x": {"field": "x", "type": "quantitative"}, "y": {"field": "y", "type": "quantitative"}}},
    {"data": {"name": "blackHigh"}, "mark": {"type": "line", "color": "#000", "strokeWidth": 2}, "encoding": {"x": {"field": "x", "type": "quantitative"}, "y": {"field": "y", "type": "quantitative"}}},
    {"data": {"values": [{}]}, "mark": {"type": "rule", "color": "#333", "strokeWidth": 1}, "encoding": {"x": {"datum": -0.096}, "y": {"datum": 0}, "y2": {"datum": 1}}},
    {"data": {"values": [{}]}, "mark": {"type": "text", "text": "A", "fontSize": 22, "fontWeight": "bold", "align": "left", "baseline": "alphabetic"}, "encoding": {"x": {"datum": -0.369}, "y": {"datum": 1.4216}}},
    {"data": {"values": [{}]}, "mark": {"type": "text", "text": "ρ", "font": "Liberation Serif", "fontStyle": "italic", "fontSize": 21, "align": "left", "baseline": "alphabetic"}, "encoding": {"x": {"datum": 1.107}, "y": {"datum": 1.419}}},
    {"data": {"values": [{}]}, "mark": {"type": "text", "text": "=", "font": "Liberation Serif", "fontSize": 21, "align": "left", "baseline": "alphabetic"}, "encoding": {"x": {"datum": 1.232}, "y": {"datum": 1.419}}},
    {"data": {"values": [{}]}, "mark": {"type": "text", "text": "τ", "font": "Liberation Serif", "fontStyle": "italic", "fontSize": 21, "align": "left", "baseline": "alphabetic"}, "encoding": {"x": {"datum": 1.387}, "y": {"datum": 1.419}}},
    {"data": {"values": [{}]}, "mark": {"type": "text", "text": "r", "font": "Liberation Serif", "fontStyle": "italic", "fontSize": 14, "align": "left", "baseline": "alphabetic"}, "encoding": {"x": {"datum": 1.461}, "y": {"datum": 1.402}}},
    {"data": {"values": [{}]}, "mark": {"type": "text", "text": "I", "font": "Liberation Serif", "fontStyle": "italic", "fontSize": 10, "align": "left", "baseline": "alphabetic"}, "encoding": {"x": {"datum": 1.509}, "y": {"datum": 1.389}}},
    {"data": {"values": [{}]}, "mark": {"type": "text", "text": "/", "font": "Liberation Serif", "fontSize": 21, "align": "left", "baseline": "alphabetic"}, "encoding": {"x": {"datum": 1.565}, "y": {"datum": 1.419}}},
    {"data": {"values": [{}]}, "mark": {"type": "text", "text": "τ", "font": "Liberation Serif", "fontStyle": "italic", "fontSize": 21, "align": "left", "baseline": "alphabetic"}, "encoding": {"x": {"datum": 1.638}, "y": {"datum": 1.419}}},
    {"data": {"values": [{}]}, "mark": {"type": "text", "text": "r", "font": "Liberation Serif", "fontStyle": "italic", "fontSize": 14, "align": "left", "baseline": "alphabetic"}, "encoding": {"x": {"datum": 1.712}, "y": {"datum": 1.402}}},
    {"data": {"values": [{}]}, "mark": {"type": "text", "text": "E", "font": "Liberation Serif", "fontStyle": "italic", "fontSize": 10, "align": "left", "baseline": "alphabetic"}, "encoding": {"x": {"datum": 1.762}, "y": {"datum": 1.389}}}
  ]
},
{
  "bounds": "flush",
  "spacing": 121,
  "vconcat": [
    {
      "bounds": "flush",
      "spacing": 14,
      "hconcat": [
        {
          "width": 167, "height": 59,
          "layer": [
            {"data": {"name": "bre"}, "mark": {"type": "line", "color": "#3b4ea2", "interpolate": "monotone"},
             "encoding": {
               "x": {"field": "t", "type": "quantitative", "scale": {"domain": [0, 250], "nice": false}, "axis": {"values": [0, 50, 100, 150, 200, 250], "labels": false, "title": null, "tickSize": 5, "offset": 4}},
               "y": {"field": "v", "type": "quantitative", "scale": {"domain": [0, 1]}, "axis": {"values": [0, 0.5, 1], "labelExpr": "datum.value == 0 ? '0' : datum.value == 1 ? '1' : '.5'", "title": null, "tickSize": 4, "labelFontSize": 12, "labelPadding": 2, "offset": 1}}}},
            {"data": {"name": "bri"}, "mark": {"type": "line", "color": "#d3303d", "interpolate": "monotone"},
             "encoding": {"x": {"field": "t", "type": "quantitative"}, "y": {"field": "v", "type": "quantitative"}}},
            {"data": {"values": [{}]}, "mark": {"type": "text", "text": "B", "fontSize": 22, "fontWeight": "bold", "align": "left", "baseline": "alphabetic"}, "encoding": {"x": {"datum": -50.9}, "y": {"datum": 1.754}}},
            {"data": {"values": [{}]}, "mark": {"type": "text", "text": "Rate", "fontSize": 17, "align": "left", "baseline": "alphabetic"}, "encoding": {"x": {"datum": -7.5}, "y": {"datum": 1.339}}}
          ]
        },
        {
          "width": 168, "height": 59,
          "layer": [
            {"data": {"name": "bse"}, "mark": {"type": "line", "color": "#3b4ea2", "interpolate": "monotone"},
             "encoding": {
               "x": {"field": "t", "type": "quantitative", "scale": {"domain": [0, 250], "nice": false}, "axis": {"values": [0, 50, 100, 150, 200, 250], "labels": false, "title": null, "tickSize": 5, "offset": 4}},
               "y": {"field": "v", "type": "quantitative", "scale": {"domain": [0, 1]}, "axis": {"values": [0, 0.5, 1], "labels": false, "title": null, "tickSize": 4, "offset": 1}}}},
            {"data": {"name": "bsi"}, "mark": {"type": "line", "color": "#d3303d", "interpolate": "monotone"},
             "encoding": {"x": {"field": "t", "type": "quantitative"}, "y": {"field": "v", "type": "quantitative"}}},
            {"data": {"values": [{}]}, "mark": {"type": "text", "text": "Synapse", "fontSize": 17, "align": "left", "baseline": "alphabetic"}, "encoding": {"x": {"datum": 4.5}, "y": {"datum": 1.339}}},
            {"data": {"values": [{}]}, "mark": {"type": "text", "text": "ρ = 4", "font": "Liberation Serif", "fontSize": 22, "align": "right", "baseline": "alphabetic"}, "encoding": {"x": {"datum": 242.6}, "y": {"datum": 1.068}}},
            {"data": {"values": [{}]}, "mark": {"type": "text", "text": "E", "fontSize": 19, "align": "center", "baseline": "alphabetic"}, "encoding": {"x": {"datum": 155.7}, "y": {"datum": 1.78}}},
            {"data": {"values": [{}]}, "mark": {"type": "text", "text": "I", "fontSize": 19, "align": "center", "baseline": "alphabetic"}, "encoding": {"x": {"datum": 193}, "y": {"datum": 1.78}}},
            {"data": {"values": [{}]}, "mark": {"type": "rule", "color": "#3b4ea2", "strokeWidth": 3.5}, "encoding": {"x": {"datum": 123}, "x2": {"datum": 167.7}, "y": {"datum": 1.695}}},
            {"data": {"values": [{}]}, "mark": {"type": "rule", "color": "#d3303d", "strokeWidth": 3.5}, "encoding": {"x": {"datum": 188.6}, "x2": {"datum": 233.5}, "y": {"datum": 1.695}}}
          ]
        }
      ]
    },
    {
      "bounds": "flush",
      "spacing": 14,
      "hconcat": [
        {
          "width": 167, "height": 59,
          "layer": [
            {"data": {"name": "cri"}, "mark": {"type": "line", "color": "#d3303d", "interpolate": "monotone"},
             "encoding": {
               "x": {"field": "t", "type": "quantitative", "scale": {"domain": [0, 250], "nice": false}, "axis": {"values": [0, 50, 100, 150, 200, 250], "labels": false, "title": null, "tickSize": 5, "offset": 4}},
               "y": {"field": "v", "type": "quantitative", "scale": {"domain": [0, 1]}, "axis": {"values": [0, 0.5, 1], "labelExpr": "datum.value == 0 ? '0' : datum.value == 1 ? '1' : '.5'", "title": null, "tickSize": 4, "labelFontSize": 12, "labelPadding": 2, "offset": 1}}}},
            {"data": {"name": "cre"}, "mark": {"type": "line", "color": "#6fb0e0", "interpolate": "monotone"},
             "encoding": {"x": {"field": "t", "type": "quantitative"}, "y": {"field": "v", "type": "quantitative"}}},
            {"data": {"values": [{}]}, "mark": {"type": "text", "text": "C", "fontSize": 22, "fontWeight": "bold", "align": "left", "baseline": "alphabetic"}, "encoding": {"x": {"datum": -50.9}, "y": {"datum": 1.737}}}
          ]
        },
        {
          "width": 168, "height": 59,
          "layer": [
            {"data": {"name": "cse"}, "mark": {"type": "line", "color": "#6fb0e0", "interpolate": "monotone"},
             "encoding": {
               "x": {"field": "t", "type": "quantitative", "scale": {"domain": [0, 250], "nice": false}, "axis": {"values": [0, 50, 100, 150, 200, 250], "labels": false, "title": null, "tickSize": 5, "offset": 4}},
               "y": {"field": "v", "type": "quantitative", "scale": {"domain": [0, 1]}, "axis": {"values": [0, 0.5, 1], "labels": false, "title": null, "tickSize": 4, "offset": 1}}}},
            {"data": {"name": "csi"}, "mark": {"type": "line", "color": "#d3303d", "interpolate": "monotone"},
             "encoding": {"x": {"field": "t", "type": "quantitative"}, "y": {"field": "v", "type": "quantitative"}}},
            {"data": {"values": [{}]}, "mark": {"type": "text", "text": "ρ = 1", "font": "Liberation Serif", "fontSize": 22, "align": "right", "baseline": "alphabetic"}, "encoding": {"x": {"datum": 242.6}, "y": {"datum": 1.1}}}
          ]
        }
      ]
    },
    {
      "bounds": "flush",
      "spacing": 14,
      "hconcat": [
        {
          "width": 167, "height": 59,
          "layer": [
            {"data": {"name": "dri"}, "mark": {"type": "line", "color": "#e07a84", "interpolate": "monotone"},
             "encoding": {
               "x": {"field": "t", "type": "quantitative", "scale": {"domain": [0, 250], "nice": false}, "axis": {"values": [0, 50, 100, 150, 200, 250], "labelExpr": "datum.value % 100 == 0 ? datum.label : ''", "labelFontSize": 13, "labelPadding": 2, "title": null, "tickSize": 5, "offset": 4}},
               "y": {"field": "v", "type": "quantitative", "scale": {"domain": [0, 1]}, "axis": {"values": [0, 0.5, 1], "labelExpr": "datum.value == 0 ? '0' : datum.value == 1 ? '1' : '.5'", "title": null, "tickSize": 4, "labelFontSize": 12, "labelPadding": 2, "offset": 1}}}},
            {"data": {"name": "dre"}, "mark": {"type": "line", "color": "#1f7f70", "interpolate": "monotone"},
             "encoding": {"x": {"field": "t", "type": "quantitative"}, "y": {"field": "v", "type": "quantitative"}}},
            {"data": {"values": [{}]}, "mark": {"type": "text", "text": "D", "fontSize": 22, "fontWeight": "bold", "align": "left", "baseline": "alphabetic"}, "encoding": {"x": {"datum": -50.9}, "y": {"datum": 1.737}}},
            {"data": {"values": [{}]}, "mark": {"type": "text", "text": "Time (ms)", "fontSize": 17, "align": "center", "baseline": "alphabetic"}, "encoding": {"x": {"datum": 269.5}, "y": {"datum": -0.67}}}
          ]
        },
        {
          "width": 168, "height": 59,
          "layer": [
            {"data": {"name": "dsi"}, "mark": {"type": "line", "color": "#e07a84", "interpolate": "monotone"},
             "encoding": {
               "x": {"field": "t", "type": "quantitative", "scale": {"domain": [0, 250], "nice": false}, "axis": {"values": [0, 50, 100, 150, 200, 250], "labelExpr": "datum.value % 100 == 0 ? datum.label : ''", "labelFontSize": 13, "labelPadding": 2, "title": null, "tickSize": 5, "offset": 4}},
               "y": {"field": "v", "type": "quantitative", "scale": {"domain": [0, 1]}, "axis": {"values": [0, 0.5, 1], "labels": false, "title": null, "tickSize": 4, "offset": 1}}}},
            {"data": {"name": "dse"}, "mark": {"type": "line", "color": "#1f7f70", "interpolate": "monotone"},
             "encoding": {"x": {"field": "t", "type": "quantitative"}, "y": {"field": "v", "type": "quantitative"}}},
            {"data": {"values": [{}]}, "mark": {"type": "text", "text": "ρ =.25", "font": "Liberation Serif", "fontSize": 22, "align": "right", "baseline": "alphabetic"}, "encoding": {"x": {"datum": 250}, "y": {"datum": 1.15}}}
          ]
        }
      ]
    }
  ]
}
]
}
